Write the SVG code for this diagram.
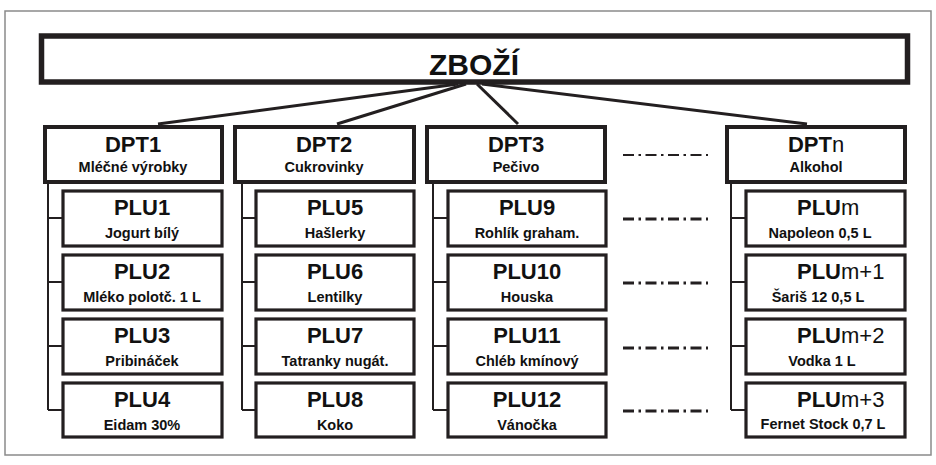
<svg xmlns="http://www.w3.org/2000/svg" width="936" height="465" viewBox="0 0 936 465">
<style>
.frame{fill:none;stroke:#8a8a8a;stroke-width:1.5}
.top{fill:#fff;stroke:#231f20;stroke-width:5.5}
.dpt{fill:#fff;stroke:#231f20;stroke-width:4}
.plu{fill:#fff;stroke:#231f20;stroke-width:3.2}
.conn{stroke:#231f20;stroke-width:3;fill:none}
.tree{stroke:#231f20;stroke-width:2;fill:none}
.dd{stroke:#231f20;stroke-width:3;fill:none;stroke-dasharray:11 4.5 2.5 4.5}
.dd1{stroke:#231f20;stroke-width:2;fill:none;stroke-dasharray:11 4.5 2.5 4.5}
text{font-family:"Liberation Sans",Arial,sans-serif;fill:#111;text-anchor:middle}
.t0{font-size:30px;font-weight:bold}
.t1{font-size:22px;font-weight:bold}
.t2{font-size:14.5px;font-weight:bold}
.r{font-weight:normal}
.l{text-anchor:start}
</style>
<rect class="frame" x="5" y="11" width="926" height="444"/>
<g id="zbozi">
<rect class="top" x="41.5" y="36" width="866" height="46"/>
<text class="t0" x="474" y="75">ZBOŽÍ</text>
</g>
<g id="connectors">
<line class="conn" x1="458" y1="84" x2="158" y2="124"/>
<line class="conn" x1="466" y1="84" x2="337" y2="124"/>
<line class="conn" x1="477" y1="84" x2="518" y2="124"/>
<line class="conn" x1="482" y1="84" x2="807" y2="124"/>
<path class="tree" d="M48 183V410M48 218H62M48 282H62M48 346H62M48 410H62"/>
<path class="tree" d="M242 183V410M242 218H255M242 282H255M242 346H255M242 410H255"/>
<path class="tree" d="M433 183V410M433 218H447M433 282H447M433 346H447M433 410H447"/>
<path class="tree" d="M731 183V410M731 218H745M731 282H745M731 346H745M731 410H745"/>
<line class="dd1" x1="623" y1="155" x2="708" y2="155"/>
<line class="dd" x1="623" y1="219" x2="708" y2="219"/>
<line class="dd" x1="623" y1="283" x2="708" y2="283"/>
<line class="dd" x1="623" y1="348" x2="708" y2="348"/>
<line class="dd" x1="623" y1="411" x2="708" y2="411"/>
</g>
<g id="dpt1"><rect class="dpt" x="45" y="127" width="177" height="55"/><text class="t1" x="133" y="152">DPT1</text><text class="t2" x="133" y="172">Mléčné výrobky</text></g>
<g id="dpt2"><rect class="dpt" x="235" y="127" width="179" height="55"/><text class="t1" x="324" y="152">DPT2</text><text class="t2" x="324" y="172">Cukrovinky</text></g>
<g id="dpt3"><rect class="dpt" x="427" y="127" width="178" height="55"/><text class="t1" x="516" y="152">DPT3</text><text class="t2" x="516" y="172">Pečivo</text></g>
<g id="dptn"><rect class="dpt" x="727" y="127" width="178" height="55"/><text class="t1" x="816" y="152">DPT<tspan class="r">n</tspan></text><text class="t2" x="816" y="172">Alkohol</text></g>

<g id="plu1"><rect class="plu" x="63" y="191" width="159" height="55"/><text class="t1" x="142" y="215">PLU1</text><text class="t2" x="142" y="238">Jogurt bílý</text></g>
<g id="plu2"><rect class="plu" x="63" y="255" width="159" height="55"/><text class="t1" x="142" y="279">PLU2</text><text class="t2" x="142" y="302">Mléko polotč. 1 L</text></g>
<g id="plu3"><rect class="plu" x="63" y="319" width="159" height="55"/><text class="t1" x="142" y="343">PLU3</text><text class="t2" x="142" y="366">Pribináček</text></g>
<g id="plu4"><rect class="plu" x="63" y="383" width="159" height="54"/><text class="t1" x="142" y="407">PLU4</text><text class="t2" x="142" y="430">Eidam 30%</text></g>

<g id="plu5"><rect class="plu" x="256" y="191" width="158" height="55"/><text class="t1" x="335" y="215">PLU5</text><text class="t2" x="335" y="238">Hašlerky</text></g>
<g id="plu6"><rect class="plu" x="256" y="255" width="158" height="55"/><text class="t1" x="335" y="279">PLU6</text><text class="t2" x="335" y="302">Lentilky</text></g>
<g id="plu7"><rect class="plu" x="256" y="319" width="158" height="55"/><text class="t1" x="335" y="343">PLU7</text><text class="t2" x="335" y="366">Tatranky nugát.</text></g>
<g id="plu8"><rect class="plu" x="256" y="383" width="158" height="54"/><text class="t1" x="335" y="407">PLU8</text><text class="t2" x="335" y="430">Koko</text></g>

<g id="plu9"><rect class="plu" x="448" y="191" width="158" height="55"/><text class="t1" x="527" y="215">PLU9</text><text class="t2" x="527" y="238">Rohlík graham.</text></g>
<g id="plu10"><rect class="plu" x="448" y="255" width="158" height="55"/><text class="t1" x="527" y="279">PLU10</text><text class="t2" x="527" y="302">Houska</text></g>
<g id="plu11"><rect class="plu" x="448" y="319" width="158" height="55"/><text class="t1" x="527" y="343">PLU11</text><text class="t2" x="527" y="366">Chléb kmínový</text></g>
<g id="plu12"><rect class="plu" x="448" y="383" width="158" height="54"/><text class="t1" x="527" y="407">PLU12</text><text class="t2" x="527" y="430">Vánočka</text></g>

<g id="plum"><rect class="plu" x="746" y="191" width="159" height="55"/><text class="t1 l" x="797" y="215">PLU<tspan class="r">m</tspan></text><text class="t2" x="820" y="238">Napoleon 0,5 L</text></g>
<g id="plum1"><rect class="plu" x="746" y="255" width="159" height="55"/><text class="t1 l" x="797" y="279">PLU<tspan class="r">m+1</tspan></text><text class="t2" x="818" y="302">Šariš 12 0,5 L</text></g>
<g id="plum2"><rect class="plu" x="746" y="319" width="159" height="55"/><text class="t1 l" x="797" y="343">PLU<tspan class="r">m+2</tspan></text><text class="t2" x="822" y="366">Vodka 1 L</text></g>
<g id="plum3"><rect class="plu" x="746" y="383" width="159" height="54"/><text class="t1 l" x="797" y="407">PLU<tspan class="r">m+3</tspan></text><text class="t2" x="823" y="429">Fernet Stock 0,7 L</text></g>
</svg>
